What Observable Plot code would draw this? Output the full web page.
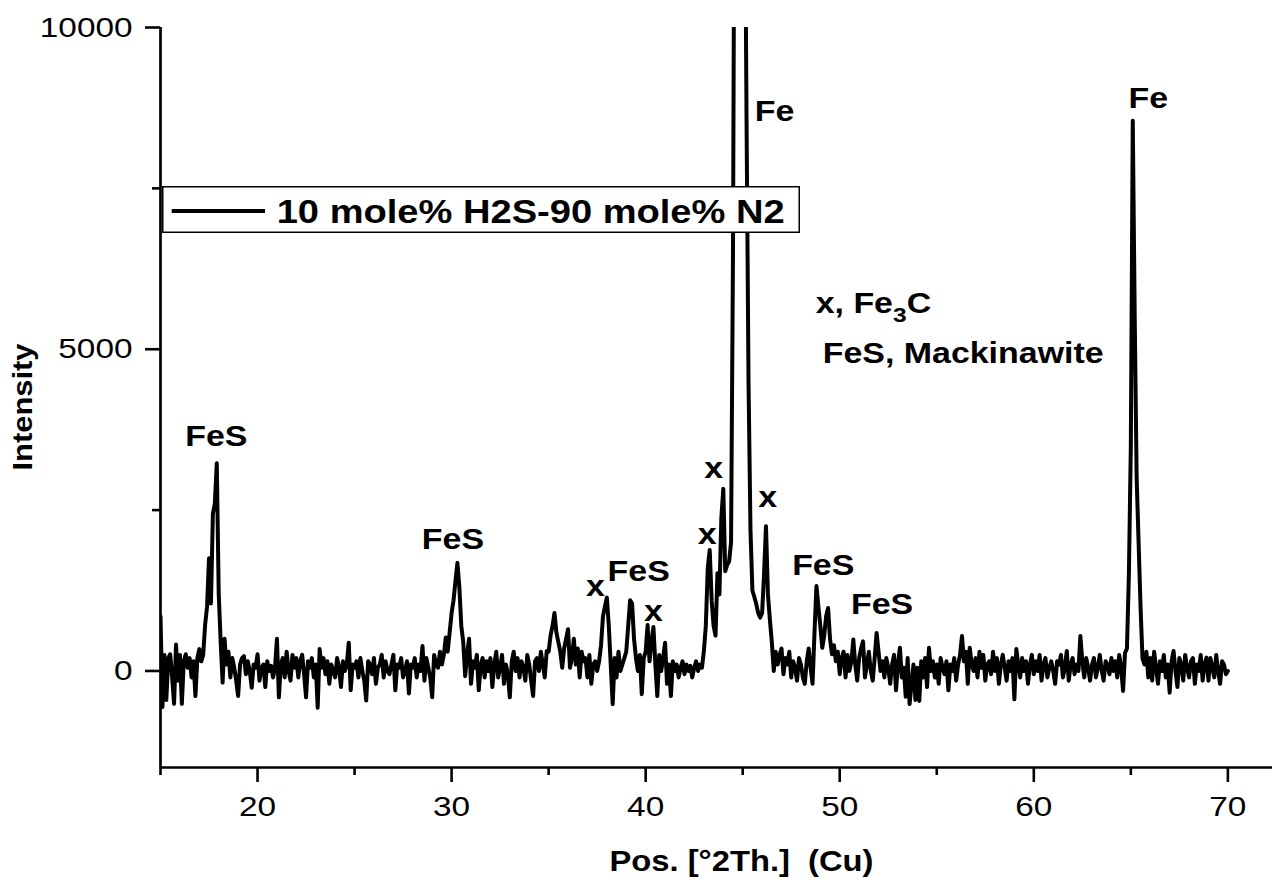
<!DOCTYPE html>
<html>
<head>
<meta charset="utf-8">
<script src="https://cdn.jsdelivr.net/npm/d3@7"></script>
<script src="https://cdn.jsdelivr.net/npm/@observablehq/plot@0.6"></script>
<style>
  body { margin: 0; background: #fff; }
  #wrap { position: relative; width: 1280px; height: 885px; }
  #legend { position: absolute; left: 162px; top: 186px; }
</style>
</head>
<body>
<div id="wrap"></div>
<script>
// ---- data ----
const scanStart = 15;     // °2θ
const scanStep = 0.1;     // °2θ per sample
const intensity = [
  850, -560, 250, -450, 200, 260, -100, -510, 410, -150,   // 15
  250, -510, 150, 260, 50, 200, -100, 150, -390, 200,      // 16
  340, 150, 250, 720, 1000, 1750, 1050, 2450, 2600, 3230,  // 17
  1200, 460, -180, 500, 100, 300, -100, 200, 50, -150,     // 18
  -390, 100, 200, 230, -50, 150, 0, -260, 100, 50,         // 19
  260, -150, 50, 100, -250, 150, 0, 80, -100, 50,          // 20
  500, -410, 100, 200, -100, 300, 0, -150, 250, 50,        // 21
  200, -100, 150, 250, -50, -410, 150, 50, 200, -100,      // 22
  100, -570, 340, 50, 200, -50, 150, -200, 100, 0,         // 23
  -100, 200, 50, -250, 150, 0, 100, 440, -300, 100,        // 24
  50, 150, -100, 200, 0, -150, -460, 150, 100, -50,        // 25
  200, -200, 50, 100, 250, -100, 150, 0, -50, 100,         // 26
  250, -300, 100, 50, 200, -100, 0, 150, -350, 100,        // 27
  50, 200, -100, 100, 0, 390, -150, 200, 50, -100,         // 28
  -410, 250, 100, 50, 300, 100, 250, 520, 300, 600,        // 29
  900, 1100, 1400, 1680, 1300, 700, 450, -80, 250, 500,    // 30
  -200, 150, 50, 250, -300, 100, 200, -100, 150, 0,        // 31
  200, -250, 100, 300, -100, 50, 250, -200, 100, -50,      // 32
  -410, 150, 300, 0, 200, -100, 150, 50, -150, 250,        // 33
  100, -150, -390, 150, 200, 0, 300, 100, -100, 310,       // 34
  300, 550, 700, 900, 600, 450, 300, 50, 350, 500,         // 35
  650, 50, 200, 500, 100, 350, -100, 300, 150, 200,        // 36
  -100, 250, -200, 100, 150, 0, 150, 400, 850, 1000,       // 37
  1140, 700, 100, -515, 200, -100, 300, 0, 100, 200,       // 38
  300, 700, 1100, 1050, 500, 200, 0, 250, -360, 200,       // 39
  300, 714, 150, 450, 683, 100, -390, 250, 0, 200,         // 40
  440, -200, 100, -390, 150, 0, 100, -100, 50, 150,        // 41
  -50, 100, 0, 80, -100, 50, 150, 0, 100, 50,              // 42
  310, 700, 1600, 1880, 1100, 700, 550, 1520, 1190, 2380,  // 43
  2830, 1550, 1650, 1700, 2000, 6500, 15000, 35000, 36000, 30000, // 44
  20000, 13000, 8500, 4500, 2200, 1250, 1150, 1040, 900, 830,     // 45
  900, 1500, 2250, 1190, 800, 450, 0, 300, 100, 250,       // 46
  350, -50, 200, 100, 300, -100, 150, 50, -150, 200,       // 47
  100, -100, -200, 150, 350, 50, -200, 600, 1320, 1000,    // 48
  700, 360, 550, 850, 980, 500, 260, 400, 150, 300,        // 49
  -50, 200, 300, -100, 250, 0, 150, 490, 100, -150,        // 50
  200, 350, 460, -100, 100, 300, 0, -150, 200, 590,        // 51
  300, 0, 150, -100, 200, 50, -200, 100, 250, -300,        // 52
  100, 360, -100, 50, -400, 200, -515, -200, 100, -450,    // 53
  50, -466, 150, -100, 200, -250, 360, 0, 150, -100,       // 54
  100, -200, 200, 50, -50, 150, -300, 100, 0, 200,         // 55
  -150, 100, 250, 543, 150, 300, -200, 362, 100, 0,        // 56
  200, -100, 300, 50, 250, -150, 100, 150, -50, 300,       // 57
  0, 200, -200, 100, 250, 50, -150, 150, 0, 200,           // 58
  -440, 341, 100, -100, 200, 0, 150, -200, 100, 250,       // 59
  -50, 150, 0, 250, -150, 100, 200, -100, 50, 150,         // 60
  0, -200, 150, 100, 250, -100, 50, 310, -150, 100,        // 61
  200, -50, 100, 0, 543, 150, -100, 200, 50, -150,         // 62
  100, 200, -100, 50, 250, 0, -150, 150, 100, -50,         // 63
  200, 0, 150, -100, 250, 50, -310, 280, 350, 1500,        // 64
  3500, 8550, 5500, 3000, 2000, 1000, 200, 100, 300, -100, // 65
  200, -150, 300, 50, -200, 150, 0, 250, -100, 100,        // 66
  -337, 150, 310, 0, -250, 200, 100, -150, 250, 50,        // 67
  -100, 150, 200, -200, 100, 0, 250, -150, 100, 207,       // 68
  -150, 200, 50, -100, 250, 0, -200, 150, 100, -50,        // 69
  0                                                        // 70
];

const seriesName = "10 mole% H2S-90 mole% N2";

const xMajorTicks = [20, 30, 40, 50, 60, 70];
const xMinorTicks = [15, 25, 35, 45, 55, 65];
const yMajorTicks = [0, 5000, 10000];
const yMinorTicks = [2500, 7500];

const xTitle = "Pos. [°2Th.]\u00a0\u00a0(Cu)";
const yTitle = "Intensity";

// peak annotations
const peakLabels = ["FeS", "FeS", "x", "FeS", "x", "x", "x", "x", "FeS", "FeS", "Fe", "Fe"];
const peakLabelX = [17.875, 30.07, 37.41, 39.64, 40.40, 43.17, 43.51, 46.29, 49.15, 52.18, 46.64, 65.9];
const peakLabelY = [3633, 2043, 1313, 1535, 925, 2110, 3147, 2696, 1640, 1030, 8698, 8897];

// phase key notes
const keyNotes = ["x, Fe₃C", "FeS, Mackinawite"];
const keyNoteX = [48.76, 49.12];
const keyNoteY = [5700, 4923];

// ---- tables built from the arrays ----
const scan = intensity.map((v, i) => ({twoTheta: +(scanStart + i * scanStep).toFixed(2), counts: v}));
const peaks = peakLabels.map((t, i) => ({t, x: peakLabelX[i], y: peakLabelY[i]}));
const notes = keyNotes.map((t, i) => ({t, x: keyNoteX[i], y: keyNoteY[i]}));

const FONT = "'Liberation Sans', Arial, Helvetica, sans-serif";

const chart = Plot.plot({
  width: 1280,
  height: 885,
  marginLeft: 160,
  marginRight: 8,
  marginTop: 27,
  marginBottom: 118,
  style: {fontFamily: FONT, fontSize: "28px", background: "white", color: "black", overflow: "visible"},
  x: {domain: [15, 72.3], label: null},
  y: {domain: [-1500, 10000], label: null},
  marks: [
    Plot.line(scan, {x: "twoTheta", y: "counts", stroke: "black", strokeWidth: 4, strokeLinejoin: "round", clip: true}),
    Plot.ruleX([15], {stroke: "black", strokeWidth: 2.7}),
    Plot.ruleY([-1500], {stroke: "black", strokeWidth: 2.7}),
    Plot.axisX({ticks: xMajorTicks, tickSize: 15, tickPadding: 13, tickFormat: d => String(d), fontSize: 28.5, strokeWidth: 2.6, label: null}),
    Plot.axisX({ticks: xMinorTicks, tickSize: 8, tickFormat: () => "", strokeWidth: 2.6, label: null}),
    Plot.axisY({ticks: yMajorTicks, tickSize: 15, tickPadding: 13, tickFormat: d => String(d), fontSize: 28.5, strokeWidth: 2.6, label: null}),
    Plot.axisY({ticks: yMinorTicks, tickSize: 8, tickFormat: () => "", strokeWidth: 2.6, label: null}),
    Plot.text(peaks, {x: "x", y: "y", text: "t", fontSize: 29, fontWeight: "bold", fill: "black"}),
    Plot.text(notes, {x: "x", y: "y", text: "t", textAnchor: "start", fontSize: 29, fontWeight: "bold", fill: "black"}),
    Plot.text([xTitle], {frameAnchor: "bottom", lineAnchor: "middle", textAnchor: "middle", dx: 25, dy: 94, fontSize: 30, fontWeight: "bold", fill: "black"}),
    Plot.text([yTitle], {frameAnchor: "left", lineAnchor: "middle", textAnchor: "middle", rotate: -90, dx: -137, dy: 9.5, fontSize: 27, fontWeight: "bold", fill: "black"})
  ]
});

const wrap = document.getElementById("wrap");
wrap.append(chart);

// subscript in Fe3C
chart.querySelectorAll("text").forEach(t => {
  const s = t.textContent;
  if (s.includes("₃") && t.children.length === 0) {
    const [a, b] = s.split("₃");
    t.textContent = "";
    const ns = "http://www.w3.org/2000/svg";
    const t1 = document.createElementNS(ns, "tspan"); t1.textContent = a; t.append(t1);
    const t2 = document.createElementNS(ns, "tspan"); t2.textContent = "3";
    t2.setAttribute("font-size", "21"); t2.setAttribute("dy", "9"); t.append(t2);
    const t3 = document.createElementNS(ns, "tspan"); t3.textContent = b;
    t3.setAttribute("dy", "-9"); t.append(t3);
  }
});

// the reference's lettering is slightly wider than the font: widen each label
chart.querySelectorAll("text").forEach(t => {
  const s = t.textContent;
  if (!s) return;
  const L = t.getComputedTextLength();
  if (!L) return;
  let target = L * 1.17;
  if (s === yTitle) target = 127;
  if (s === xTitle) target = 264;
  t.setAttribute("textLength", target.toFixed(1));
  t.setAttribute("lengthAdjust", "spacingAndGlyphs");
});

// legend box (inside the plot area, top left)
const lg = d3.select(wrap).append("svg")
  .attr("id", "legend").attr("width", 642).attr("height", 50);
lg.append("rect").attr("x", 0.75).attr("y", 0.75).attr("width", 636.5).attr("height", 45.5)
  .attr("fill", "white").attr("stroke", "black").attr("stroke-width", 1.5);
lg.append("line").attr("x1", 9.7).attr("x2", 103).attr("y1", 25).attr("y2", 25)
  .attr("stroke", "black").attr("stroke-width", 4);
lg.append("text").attr("x", 114.7).attr("y", 37.3)
  .attr("font-family", FONT).attr("font-weight", "bold").attr("font-size", 33)
  .attr("textLength", 508).attr("lengthAdjust", "spacingAndGlyphs")
  .attr("fill", "black")
  .text(seriesName);
</script>
</body>
</html>
